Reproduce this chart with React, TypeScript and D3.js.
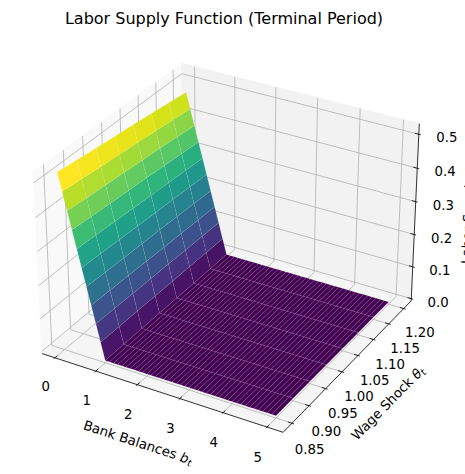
import React from 'react';
import * as d3 from 'd3';

const WIDTH = 465;
const HEIGHT = 474;

// Surface grid: bank balances b_t (rows) and wage shocks theta_t (columns)
const balanceGrid = d3.range(0, 51).map((i) => i / 10);
const wageShocks = [0.85, 0.9, 0.95, 1.0, 1.05, 1.1, 1.15, 1.2];

const laborSupply = [
  [0.52, 0.513, 0.506, 0.5, 0.494, 0.487, 0.48, 0.473],
  [0.468, 0.462, 0.455, 0.45, 0.445, 0.438, 0.432, 0.426],
  [0.416, 0.41, 0.405, 0.4, 0.395, 0.39, 0.384, 0.378],
  [0.364, 0.359, 0.354, 0.35, 0.346, 0.341, 0.336, 0.331],
  [0.312, 0.308, 0.304, 0.3, 0.296, 0.292, 0.288, 0.284],
  [0.26, 0.257, 0.253, 0.25, 0.247, 0.244, 0.24, 0.237],
  [0.208, 0.205, 0.202, 0.2, 0.198, 0.195, 0.192, 0.189],
  [0.156, 0.154, 0.152, 0.15, 0.148, 0.146, 0.144, 0.142],
  [0.104, 0.103, 0.101, 0.1, 0.099, 0.097, 0.096, 0.095],
  [0.052, 0.051, 0.051, 0.05, 0.049, 0.049, 0.048, 0.047],
  [0, 0, 0, 0, 0, 0, 0, 0],
];

const balanceTicks = [0, 1, 2, 3, 4, 5];
const wageTicks = [0.85, 0.9, 0.95, 1.0, 1.05, 1.1, 1.15, 1.2];
const laborTicks = [0, 0.1, 0.2, 0.3, 0.4, 0.5];

// view (matplotlib defaults: elev 30, azim -60, box aspect 4:4:3)
const ELEV = 30;
const AZIM = -60;
const DIST = 10;
const BOX = [1.1905, 1.1905, 0.8929];
const xLim = [-0.32, 5.36];
const yLim = [0.8245, 1.2255];
const zLim = [-0.007, 0.531];
const SCALE = 232;
const CX = 230;
const CY = 239;

const FONT = 'DejaVu Sans, sans-serif';

type Vec = [number, number, number];
const cross = (a: Vec, b: Vec): Vec => [
  a[1] * b[2] - a[2] * b[1],
  a[2] * b[0] - a[0] * b[2],
  a[0] * b[1] - a[1] * b[0],
];
const norm = (a: Vec): Vec => {
  const l = Math.hypot(a[0], a[1], a[2]);
  return [a[0] / l, a[1] / l, a[2] / l];
};

const el = (ELEV * Math.PI) / 180;
const az = (AZIM * Math.PI) / 180;
const w: Vec = [Math.cos(el) * Math.cos(az), Math.cos(el) * Math.sin(az), Math.sin(el)];
const u = norm(cross([0, 0, 1], w));
const v = cross(w, u);

const bx = d3.scaleLinear().domain(xLim).range([-BOX[0] / 2, BOX[0] / 2]);
const by = d3.scaleLinear().domain(yLim).range([-BOX[1] / 2, BOX[1] / 2]);
const bz = d3.scaleLinear().domain(zLim).range([-BOX[2] / 2, BOX[2] / 2]);

function project(x: number, y: number, z: number): [number, number, number] {
  const q: Vec = [bx(x), by(y), bz(z)];
  const pu = q[0] * u[0] + q[1] * u[1] + q[2] * u[2];
  const pv = q[0] * v[0] + q[1] * v[1] + q[2] * v[2];
  const pw = q[0] * w[0] + q[1] * w[1] + q[2] * w[2];
  const f = DIST / (DIST - pw);
  return [CX + SCALE * pu * f, CY - SCALE * pv * f, pw];
}

const pts = (list: [number, number, number][]) =>
  list.map((p) => `${p[0].toFixed(2)},${p[1].toFixed(2)}`).join(' ');

const angleOf = (a: number[], b: number[]) =>
  (Math.atan2(b[1] - a[1], b[0] - a[0]) * 180) / Math.PI;

export default function App() {
  const [x0, x1] = xLim;
  const [y0, y1] = yLim;
  const [z0, z1] = zLim;
  const xR = x1 - x0;
  const yR = y1 - y0;
  const zR = z1 - z0;

  // panes
  const floor = [project(x0, y0, z0), project(x1, y0, z0), project(x1, y1, z0), project(x0, y1, z0)];
  const back = [project(x0, y1, z0), project(x1, y1, z0), project(x1, y1, z1), project(x0, y1, z1)];
  const left = [project(x0, y0, z0), project(x0, y1, z0), project(x0, y1, z1), project(x0, y0, z1)];

  // grid lines on the three back panes
  const grid: [number, number, number][][] = [];
  balanceTicks.forEach((t) => {
    grid.push([project(t, y0, z0), project(t, y1, z0)]);
    grid.push([project(t, y1, z0), project(t, y1, z1)]);
  });
  wageTicks.forEach((t) => {
    grid.push([project(x0, t, z0), project(x1, t, z0)]);
    grid.push([project(x0, t, z0), project(x0, t, z1)]);
  });
  laborTicks.forEach((t) => {
    grid.push([project(x0, y0, t), project(x0, y1, t)]);
    grid.push([project(x0, y1, t), project(x1, y1, t)]);
  });

  // surface facets, painted back to front
  const zAt = (r: number, c: number) => (r < laborSupply.length ? laborSupply[r][c] : 0);
  const facets: { poly: [number, number, number][]; mean: number; depth: number }[] = [];
  for (let r = 0; r < balanceGrid.length - 1; r++) {
    for (let c = 0; c < wageShocks.length - 1; c++) {
      const idx = [
        [r, c],
        [r + 1, c],
        [r + 1, c + 1],
        [r, c + 1],
      ];
      const poly = idx.map(([i, j]) => project(balanceGrid[i], wageShocks[j], zAt(i, j)));
      const mean = d3.mean(idx, ([i, j]) => zAt(i, j)) as number;
      const depth = d3.mean(poly, (p) => p[2]) as number;
      facets.push({ poly, mean, depth });
    }
  }
  facets.sort((a, b) => a.depth - b.depth);
  const color = d3
    .scaleSequential(d3.interpolateViridis)
    .domain([d3.min(facets, (f) => f.mean) as number, d3.max(facets, (f) => f.mean) as number]);

  // axis lines
  const xAxis = [project(x0, y0, z0), project(x1, y0, z0)];
  const yAxis = [project(x1, y0, z0), project(x1, y1, z0)];
  const zAxis = [project(x1, y1, z0), project(x1, y1, z1)];

  const dx = xR / 12.5;
  const dy = yR / 12.5;

  const xTickMarks = balanceTicks.map((t) => [project(t, y0 - 0.1 * dy, z0), project(t, y0 + 0.2 * dy, z0)]);
  const yTickMarks = wageTicks.map((t) => [project(x1 + 0.1 * dx, t, z0), project(x1 - 0.2 * dx, t, z0)]);
  const zTickMarks = laborTicks.map((t) => [project(x1 + 0.1 * dx, y1, t), project(x1 - 0.2 * dx, y1, t)]);

  const xTickLabels = balanceTicks.map((t) => ({ t, p: project(t, y0 - 0.065 * yR, z0 - 0.117 * zR), s: String(t) }));
  const yTickLabels = wageTicks.map((t) => ({ t, p: project(x1 + 0.071 * xR, t, z0 - 0.112 * zR), s: t.toFixed(2) }));
  const zTickLabels = laborTicks.map((t) => ({ t, p: project(x1 + 0.1 * xR, y1 + 0.025 * yR, t), s: t.toFixed(1) }));

  const xLabelPos = project((x0 + x1) / 2 + 0.1, y0 - 0.175 * yR, z0 - 0.14 * zR);
  const yLabelPos = project(x1 + 0.157 * xR, (y0 + y1) / 2, z0 - 0.157 * zR);
  const xAngle = angleOf(xAxis[0], xAxis[1]);
  const yAngle = angleOf(yAxis[0], yAxis[1]);
  const zAngle = angleOf(zAxis[0], zAxis[1]);

  const line = (seg: number[][], key: string | number, stroke: string, width: number) => (
    <line key={key} x1={seg[0][0]} y1={seg[0][1]} x2={seg[1][0]} y2={seg[1][1]} stroke={stroke} strokeWidth={width} />
  );

  return (
    <svg
      width={WIDTH}
      height={HEIGHT}
      style={{ position: 'absolute', left: 0, top: 0, background: '#fff' }}
      fontFamily={FONT}
    >
      <text x={224} y={24} textAnchor="middle" fontSize={16} fill="#000">
        Labor Supply Function (Terminal Period)
      </text>

      {/* panes */}
      <polygon points={pts(left)} fill="#f9f9f9" stroke="#f9f9f9" />
      <polygon points={pts(back)} fill="#f2f2f2" stroke="#f2f2f2" />
      <polygon points={pts(floor)} fill="#f5f5f5" stroke="#f5f5f5" />

      {/* grid */}
      <g>{grid.map((g, i) => line(g, i, '#b0b0b0', 0.8))}</g>

      {/* axis lines and ticks */}
      <g>
        {line(xAxis, 'xa', '#000', 0.8)}
        {line(yAxis, 'ya', '#000', 0.8)}
        {line(zAxis, 'za', '#000', 0.8)}
        {xTickMarks.map((s, i) => line(s, `xt${i}`, '#000', 0.8))}
        {yTickMarks.map((s, i) => line(s, `yt${i}`, '#000', 0.8))}
        {zTickMarks.map((s, i) => line(s, `zt${i}`, '#000', 0.8))}
      </g>

      {/* surface */}
      <g>
        {facets.map((f, i) => (
          <polygon
            key={i}
            points={pts(f.poly)}
            fill={color(f.mean)}
            stroke="#ffffff"
            strokeOpacity={0.12}
            strokeWidth={0.5}
          />
        ))}
      </g>

      {/* tick labels */}
      <g fontSize={13.3} fill="#000" textAnchor="middle" dominantBaseline="central">
        {xTickLabels.map((d) => (
          <text key={`xl${d.t}`} x={d.p[0]} y={d.p[1]}>
            {d.s}
          </text>
        ))}
        {yTickLabels.map((d) => (
          <text key={`yl${d.t}`} x={d.p[0]} y={d.p[1]}>
            {d.s}
          </text>
        ))}
        {zTickLabels.map((d) => (
          <text key={`zl${d.t}`} x={d.p[0]} y={d.p[1]}>
            {d.s}
          </text>
        ))}
      </g>

      {/* axis labels */}
      <text
        x={xLabelPos[0]}
        y={xLabelPos[1]}
        fontSize={13.3}
        textAnchor="middle"
        dominantBaseline="central"
        transform={`rotate(${xAngle} ${xLabelPos[0]} ${xLabelPos[1]})`}
      >
        Bank Balances <tspan fontStyle="italic">b</tspan>
        <tspan fontStyle="italic" fontSize={9.5} dy={3}>
          t
        </tspan>
      </text>
      <text
        x={yLabelPos[0]}
        y={yLabelPos[1]}
        fontSize={13.3}
        textAnchor="middle"
        dominantBaseline="central"
        transform={`rotate(${yAngle} ${yLabelPos[0]} ${yLabelPos[1]})`}
      >
        Wage Shock <tspan fontStyle="italic">θ</tspan>
        <tspan fontStyle="italic" fontSize={9.5} dy={3}>
          t
        </tspan>
      </text>
      {/* the z label sits mostly past the right edge, as in the original figure */}
      <text x={473} y={214} fontSize={13.3} textAnchor="middle" transform={`rotate(${zAngle} 473 214)`}>
        Labor Supply <tspan fontStyle="italic">ℓ</tspan>
        <tspan fontStyle="italic" fontSize={9.5} dy={3}>
          t
        </tspan>
      </text>
    </svg>
  );
}
